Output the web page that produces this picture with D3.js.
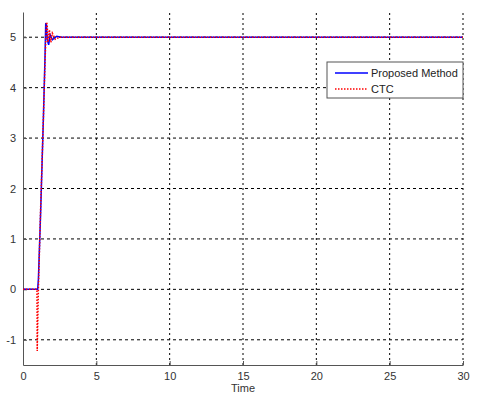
<!DOCTYPE html>
<html>
<head>
<meta charset="utf-8">
<script src="https://cdn.jsdelivr.net/npm/d3@7"></script>
<style>
  body { margin: 0; background: #fff; }
  svg { font-family: Arial, "Liberation Sans", sans-serif; }
</style>
</head>
<body>
<svg id="chart" width="480" height="399"></svg>
<script>
// -------------------- DATA --------------------
const xTicks = [0, 5, 10, 15, 20, 25, 30];
const yTicks = [-1, 0, 1, 2, 3, 4, 5];

const proposedT = [0, 1.0, 1.05, 1.2, 1.3, 1.4, 1.5, 1.55, 1.6, 1.65, 1.75, 1.85, 2.0, 2.3, 2.6, 30];
const proposedY = [0, 0, 0.2, 1.5, 2.5, 3.5, 4.6, 5.28, 5.25, 4.95, 4.85, 5.05, 4.95, 5.02, 5.0, 5.0];

const ctcT = [0, 0.95, 0.97, 1.05, 1.2, 1.35, 1.5, 1.6, 1.65, 1.7, 1.8, 1.9, 2.0, 2.2, 2.5, 30];
const ctcY = [0, 0, -1.22, 0, 1.6, 3.0, 4.5, 5.3, 5.25, 4.9, 5.15, 4.9, 5.08, 4.96, 5.0, 5.0];

const seriesNames = ["Proposed Method", "CTC"];

// -------------------- SETUP --------------------
const svg = d3.select("#chart");
const x = d3.scaleLinear().domain([0, 30]).range([23, 463]);
const y = d3.scaleLinear().domain([-1.5, 5.5]).range([365, 12]);

// grid
const grid = svg.append("g");
xTicks.filter(d => d > 0).forEach(t => {
  grid.append("line")
    .attr("x1", x(t)).attr("x2", x(t))
    .attr("y1", y(-1.5)).attr("y2", y(5.5))
    .attr("stroke", "#000").attr("stroke-width", 1)
    .attr("stroke-dasharray", "2,3");
});
yTicks.forEach(t => {
  grid.append("line")
    .attr("x1", x(0)).attr("x2", x(30))
    .attr("y1", y(t)).attr("y2", y(t))
    .attr("stroke", "#000").attr("stroke-width", 1)
    .attr("stroke-dasharray", "3,3");
});

// axes
const fmt = d => String(d);
const xAxis = svg.append("g")
  .attr("transform", `translate(0,${y(-1.5)})`)
  .call(d3.axisBottom(x).tickValues(xTicks).tickFormat(fmt).tickSizeInner(-4).tickSizeOuter(0).tickPadding(7));
const yAxis = svg.append("g")
  .attr("transform", `translate(${x(0)},0)`)
  .call(d3.axisLeft(y).tickValues(yTicks).tickFormat(fmt).tickSizeInner(-4).tickSizeOuter(0).tickPadding(7));
[xAxis, yAxis].forEach(a => {
  a.select(".domain").attr("stroke", "#555");
  a.selectAll(".tick line").attr("stroke", "#555");
  a.selectAll("text").attr("fill", "#333").style("font-size", "11px");
});

svg.append("text")
  .attr("x", x(15)).attr("y", 392)
  .attr("text-anchor", "middle")
  .attr("fill", "#333")
  .style("font-size", "11px")
  .text("Time");

// -------------------- LINES --------------------
const line = d3.line().x(d => x(d[0])).y(d => y(d[1]));

svg.append("path")
  .datum(proposedT.map((t, i) => [t, proposedY[i]]))
  .attr("d", line)
  .attr("fill", "none")
  .attr("stroke", "#0000ff")
  .attr("stroke-width", 1.5);

svg.append("path")
  .datum(ctcT.map((t, i) => [t, ctcY[i]]))
  .attr("d", line)
  .attr("fill", "none")
  .attr("stroke", "#ff0000")
  .attr("stroke-width", 1.5)
  .attr("stroke-dasharray", "1.5,1.5");

// -------------------- LEGEND --------------------
const legend = svg.append("g").attr("transform", "translate(327,62)");
legend.append("rect")
  .attr("width", 136).attr("height", 36)
  .attr("fill", "#fff").attr("stroke", "#555");
const legendStyles = [
  { color: "#0000ff", dash: null },
  { color: "#ff0000", dash: "1.5,1.5" }
];
seriesNames.forEach((name, i) => {
  const ly = 11 + i * 16;
  legend.append("line")
    .attr("x1", 8).attr("x2", 41)
    .attr("y1", ly).attr("y2", ly)
    .attr("stroke", legendStyles[i].color)
    .attr("stroke-width", 1.5)
    .attr("stroke-dasharray", legendStyles[i].dash);
  legend.append("text")
    .attr("x", 44).attr("y", ly + 4)
    .attr("fill", "#222")
    .style("font-size", "11px")
    .text(name);
});
</script>
</body>
</html>
